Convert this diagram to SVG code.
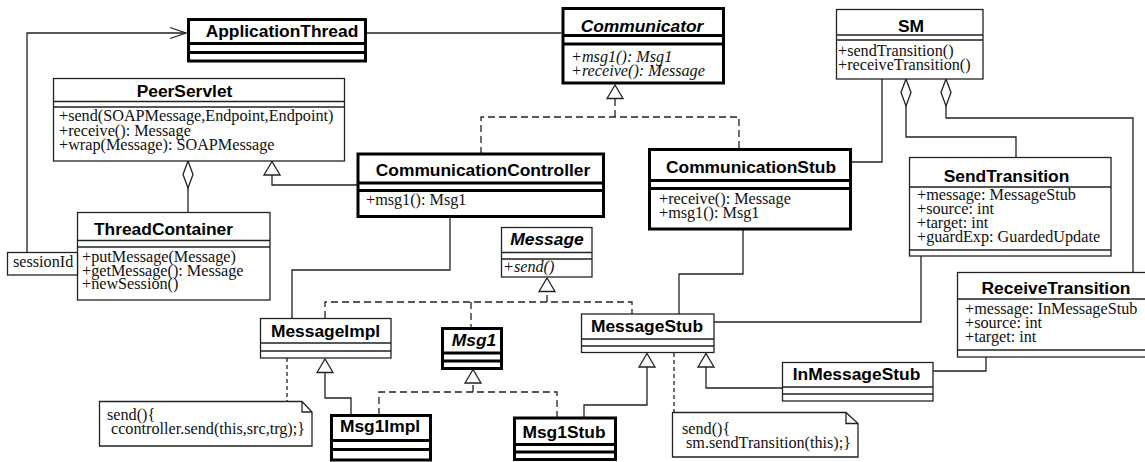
<svg xmlns="http://www.w3.org/2000/svg" width="1145" height="462" viewBox="0 0 1145 462">
<style>
.bx{fill:#fff;stroke:#222;stroke-width:1.3}
.bk{fill:#fff;stroke:#000;stroke-width:3}
.ln{stroke:#222;stroke-width:1.3;fill:none}
.lk{stroke:#000;stroke-width:3;fill:none}
.c{fill:none;stroke:#222;stroke-width:1.3}
.d{stroke-dasharray:7 4}
.dn{stroke-dasharray:4 3}
.n{font-family:"Liberation Sans",Arial,sans-serif;font-weight:bold;font-size:17.4px;text-anchor:middle;fill:#000}
.ni{font-family:"Liberation Sans",Arial,sans-serif;font-weight:bold;font-style:italic;font-size:17.4px;text-anchor:middle;fill:#000}
.o{font-family:"Liberation Serif","Times New Roman",serif;font-size:16.2px;fill:#111}
.oi{font-family:"Liberation Serif","Times New Roman",serif;font-style:italic;font-size:16.2px;fill:#111}
</style>
<defs>
<marker id="tri" markerUnits="userSpaceOnUse" markerWidth="18" markerHeight="20" viewBox="0 0 18 20" refX="15" refY="10" orient="auto"><path d="M1.5,2 L15,10 L1.5,18 Z" fill="#fff" stroke="#222" stroke-width="1.3"/></marker>
<marker id="dia" markerUnits="userSpaceOnUse" markerWidth="30" markerHeight="12" viewBox="0 0 30 12" refX="1" refY="6" orient="auto"><path d="M1,6 L14.5,1 L28,6 L14.5,11 Z" fill="#fff" stroke="#222" stroke-width="1.3"/></marker>
<marker id="open" markerUnits="userSpaceOnUse" markerWidth="20" markerHeight="14" viewBox="0 0 20 14" refX="18" refY="7" orient="auto"><path d="M2,1.5 L18,7 L2,12.5" fill="none" stroke="#222" stroke-width="1.3"/></marker>
</defs>
<rect width="1145" height="462" fill="#fff"/>

<g id="connectors">
<path class="c" d="M27,252.5 V33 H186" marker-end="url(#open)"/>
<path class="c" d="M367,33 H561.5"/>
<path class="c d" d="M481,154 V117 H739 V149"/>
<path class="c d" d="M615,117 V85" marker-end="url(#tri)"/>
<path class="c" d="M357,185 H272 V161.5" marker-end="url(#tri)"/>
<path class="c" d="M188,161 V212" marker-start="url(#dia)"/>
<path class="c" d="M450,218 V270 H292 V318"/>
<path class="c" d="M743,230 V274 H679 V314"/>
<path class="c" d="M882,79 V162 H852"/>
<path class="c" d="M906,79 V137 H1016 V157" marker-start="url(#dia)"/>
<path class="c" d="M946,79 V118 H1133 V272" marker-start="url(#dia)"/>
<path class="c" d="M921,256 V322 H714"/>
<path class="c" d="M986,357 V371 H933"/>
<path class="c d" d="M325,318 V302 H632 V314"/>
<path class="c d" d="M471,302 V328"/>
<path class="c d" d="M547,302 V278" marker-end="url(#tri)"/>
<path class="c" d="M351,415 V398 H325 V359" marker-end="url(#tri)"/>
<path class="c d" d="M379,415 V392 H557 V418"/>
<path class="c d" d="M473,392 V369.5" marker-end="url(#tri)"/>
<path class="c" d="M584,418 V405 H647 V353.5" marker-end="url(#tri)"/>
<path class="c" d="M782,388 H706 V353.5" marker-end="url(#tri)"/>
<path class="c dn" d="M287,358 V401.5"/>
<path class="c dn" d="M674,353 V412.5"/>
</g>

<g id="ApplicationThread">
<rect class="bk" x="188.5" y="19.5" width="177" height="41.5"/>
<path class="lk" d="M188.5,43.5 H365.5 M188.5,52.5 H365.5"/>
<text class="n" x="282" y="36.5">ApplicationThread</text>
</g>

<g id="Communicator">
<rect class="bk" x="563" y="8.5" width="160.5" height="74.5"/>
<path class="lk" d="M563,35.5 H723.5 M563,44 H723.5"/>
<text class="ni" x="642" y="31.5">Communicator</text>
<text class="oi"><tspan x="571" y="62">+msg1(): Msg1</tspan><tspan x="571" y="75.5">+receive(): Message</tspan></text>
</g>

<g id="PeerServlet">
<rect class="bx" x="53.5" y="78.5" width="291" height="82.5"/>
<path class="ln" d="M53.5,101.5 H344.5 M53.5,107 H344.5"/>
<text class="n" x="184.5" y="97">PeerServlet</text>
<text class="o"><tspan x="59" y="121">+send(SOAPMessage,Endpoint,Endpoint)</tspan><tspan x="59" y="136">+receive(): Message</tspan><tspan x="59" y="150">+wrap(Message): SOAPMessage</tspan></text>
</g>

<g id="ThreadContainer">
<rect class="bx" x="77.5" y="212.5" width="192.5" height="87.5"/>
<path class="ln" d="M77.5,240.5 H270 M77.5,247 H270"/>
<text class="n" x="163.5" y="235">ThreadContainer</text>
<text class="o"><tspan x="82" y="262">+putMessage(Message)</tspan><tspan x="82" y="275.5">+getMessage(): Message</tspan><tspan x="82" y="289">+newSession()</tspan></text>
</g>

<g id="sessionId">
<rect class="bx" x="7.5" y="252.5" width="70" height="22.5"/>
<text class="o" x="13" y="267">sessionId</text>
</g>

<g id="CommunicationController">
<rect class="bk" x="358" y="154" width="245.5" height="62.5"/>
<path class="lk" d="M358,183 H603.5 M358,190.5 H603.5"/>
<text class="n" x="483" y="176">CommunicationController</text>
<text class="o" x="366" y="205">+msg1(): Msg1</text>
</g>

<g id="CommunicationStub">
<rect class="bk" x="649.5" y="149.5" width="201" height="79.5"/>
<path class="lk" d="M649.5,180.5 H850.5 M649.5,188.5 H850.5"/>
<text class="n" x="751" y="172.5">CommunicationStub</text>
<text class="o"><tspan x="659" y="204">+receive(): Message</tspan><tspan x="659" y="218">+msg1(): Msg1</tspan></text>
</g>

<g id="SM">
<rect class="bx" x="836.5" y="9.5" width="146.5" height="69.5"/>
<path class="ln" d="M836.5,35 H983 M836.5,40 H983"/>
<text class="n" x="911" y="31.5">SM</text>
<text class="o"><tspan x="838" y="56">+sendTransition()</tspan><tspan x="838" y="69.5">+receiveTransition()</tspan></text>
</g>

<g id="SendTransition">
<rect class="bx" x="909.5" y="157.5" width="201.5" height="98.5"/>
<path class="ln" d="M909.5,187 H1111 M909.5,250 H1111"/>
<text class="n" x="1006.5" y="182">SendTransition</text>
<text class="o"><tspan x="917" y="200">+message: MessageStub</tspan><tspan x="917" y="214">+source: int</tspan><tspan x="917" y="228">+target: int</tspan><tspan x="917" y="242">+guardExp: GuardedUpdate</tspan></text>
</g>

<g id="ReceiveTransition">
<rect class="bx" x="957.5" y="272.5" width="200" height="84.5"/>
<path class="ln" d="M957.5,299 H1157.5 M957.5,350 H1157.5"/>
<text class="n" x="1056" y="294">ReceiveTransition</text>
<text class="o"><tspan x="965" y="314">+message: InMessageStub</tspan><tspan x="965" y="328">+source: int</tspan><tspan x="965" y="342">+target: int</tspan></text>
</g>

<g id="Message">
<rect class="bx" x="501.5" y="227.5" width="90.5" height="49.5"/>
<path class="ln" d="M501.5,252.5 H592 M501.5,259 H592"/>
<text class="ni" x="547" y="245">Message</text>
<text class="oi" x="503" y="272">+send()</text>
</g>

<g id="MessageImpl">
<rect class="bx" x="260.5" y="318.5" width="130.5" height="39.5"/>
<path class="ln" d="M260.5,343 H391 M260.5,351 H391"/>
<text class="n" x="325.5" y="337">MessageImpl</text>
</g>

<g id="Msg1">
<rect class="bk" x="442.5" y="328.5" width="59" height="40"/>
<path class="lk" d="M442.5,353 H501.5 M442.5,361 H501.5"/>
<text class="ni" x="474" y="346">Msg1</text>
</g>

<g id="MessageStub">
<rect class="bx" x="581.5" y="314" width="132.5" height="38.5"/>
<path class="ln" d="M581.5,339 H714 M581.5,346 H714"/>
<text class="n" x="647" y="332">MessageStub</text>
</g>

<g id="InMessageStub">
<rect class="bx" x="782.5" y="362.5" width="150.5" height="38.5"/>
<path class="ln" d="M782.5,387 H933 M782.5,394 H933"/>
<text class="n" x="856.5" y="380">InMessageStub</text>
</g>

<g id="Msg1Impl">
<rect class="bk" x="331.5" y="415.5" width="99" height="44.5"/>
<path class="lk" d="M331.5,440.5 H430.5 M331.5,449.5 H430.5"/>
<text class="n" x="380" y="432">Msg1Impl</text>
</g>

<g id="Msg1Stub">
<rect class="bk" x="514.5" y="418" width="101" height="41.5"/>
<path class="lk" d="M514.5,444.5 H615.5 M514.5,452 H615.5"/>
<text class="n" x="564" y="438">Msg1Stub</text>
</g>

<g id="NoteImpl">
<path class="bx" d="M99.5,401.5 H302 L312,412 V446 H99.5 Z"/>
<path class="ln" d="M302,401.5 V412 H312"/>
<text class="o"><tspan x="107" y="420">send(){</tspan><tspan x="111" y="434">ccontroller.send(this,src,trg);}</tspan></text>
</g>

<g id="NoteStub">
<path class="bx" d="M672.5,412.5 H846 L858,423.5 V457 H672.5 Z"/>
<path class="ln" d="M846,412.5 V423.5 H858"/>
<text class="o"><tspan x="682" y="434">send(){</tspan><tspan x="686" y="447.5">sm.sendTransition(this);}</tspan></text>
</g>
</svg>
